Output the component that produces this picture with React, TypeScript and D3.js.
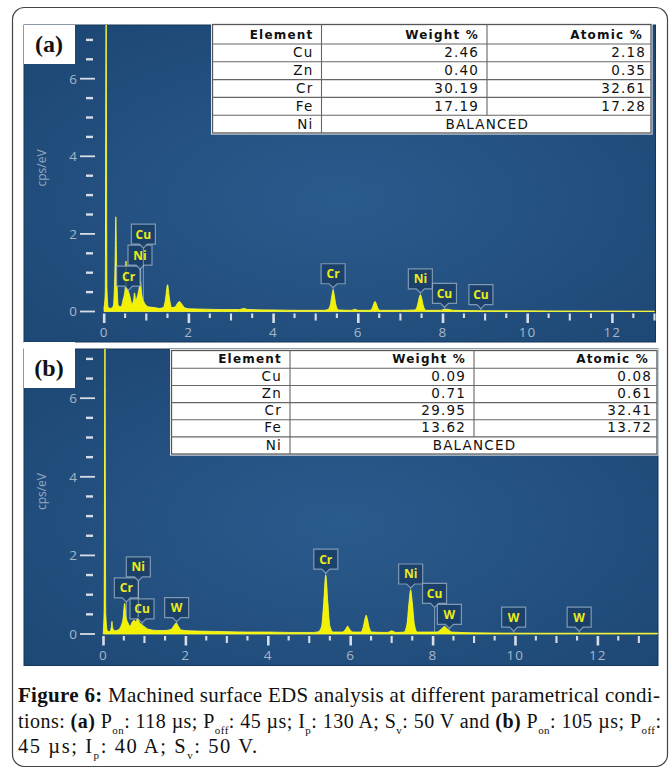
import React from "react";
import * as d3 from "d3";

type Pt = [number, number];
type Peak = { el: string; kev: number };
type Part = string | { b: string } | { s: string };

// EDS table values
const tableHeaders = ["Element", "Weight %", "Atomic %"];
const elements = ["Cu", "Zn", "Cr", "Fe", "Ni"];
const weightA = ["2.46", "0.40", "30.19", "17.19"];
const atomicA = ["2.18", "0.35", "32.61", "17.28"];
const weightB = ["0.09", "0.71", "29.95", "13.62"];
const atomicB = ["0.08", "0.61", "32.41", "13.72"];
const balanceText = "BALANCED";

// spectra: [keV, cps/eV]
const spectrumA: Pt[] = [
  [0, 0.1], [0.03, 0.5], [0.05, 8.0], [0.07, 0.6], [0.1, 0.1], [0.16, 0.08],
  [0.22, 0.15], [0.26, 1.2], [0.28, 2.44], [0.3, 1.0], [0.34, 0.15], [0.4, 0.12],
  [0.45, 0.3], [0.5, 0.6], [0.52, 1.3], [0.54, 0.6], [0.58, 0.5], [0.62, 0.35],
  [0.66, 0.2], [0.7, 0.3], [0.72, 0.48], [0.75, 0.3], [0.79, 0.4], [0.83, 0.6],
  [0.86, 0.78], [0.89, 0.45], [0.93, 0.28], [0.98, 0.18], [1.05, 0.12], [1.2, 0.1],
  [1.3, 0.08], [1.4, 0.1], [1.45, 0.3], [1.5, 0.69], [1.55, 0.3], [1.6, 0.1],
  [1.68, 0.12], [1.74, 0.22], [1.78, 0.26], [1.83, 0.2], [1.9, 0.1], [2.0, 0.07],
  [2.4, 0.06], [2.8, 0.05], [3.2, 0.05], [3.3, 0.08], [3.4, 0.05], [4.0, 0.04],
  [4.6, 0.03], [5.2, 0.03], [5.28, 0.05], [5.34, 0.15], [5.38, 0.4], [5.41, 0.56],
  [5.44, 0.4], [5.48, 0.15], [5.54, 0.04], [5.85, 0.03], [5.92, 0.06], [6.0, 0.03],
  [6.28, 0.03], [6.34, 0.1], [6.37, 0.2], [6.4, 0.26], [6.43, 0.2], [6.46, 0.1],
  [6.52, 0.03], [7.0, 0.03], [7.34, 0.04], [7.4, 0.15], [7.44, 0.35], [7.47, 0.43],
  [7.5, 0.35], [7.54, 0.15], [7.6, 0.03], [7.95, 0.03], [8.05, 0.06], [8.15, 0.05],
  [8.25, 0.03], [9.0, 0.02], [10.5, 0.015], [13.0, 0.01],
];

const spectrumB: Pt[] = [
  [0, 0.1], [0.02, 0.6], [0.04, 8.0], [0.06, 0.5], [0.1, 0.08], [0.15, 0.06],
  [0.19, 0.15], [0.21, 0.32], [0.23, 0.15], [0.28, 0.08], [0.35, 0.1], [0.42, 0.18],
  [0.48, 0.4], [0.52, 0.78], [0.55, 0.45], [0.6, 0.28], [0.65, 0.2], [0.7, 0.3],
  [0.75, 0.35], [0.8, 0.3], [0.84, 0.5], [0.87, 0.3], [0.92, 0.25], [0.98, 0.2],
  [1.1, 0.12], [1.3, 0.09], [1.5, 0.09], [1.65, 0.12], [1.72, 0.22], [1.77, 0.28],
  [1.82, 0.2], [1.9, 0.1], [2.1, 0.08], [2.5, 0.07], [3.0, 0.06], [3.5, 0.05],
  [4.0, 0.05], [4.5, 0.04], [5.1, 0.04], [5.22, 0.06], [5.3, 0.2], [5.35, 0.8],
  [5.4, 1.5], [5.45, 0.8], [5.5, 0.2], [5.58, 0.05], [5.8, 0.05], [5.88, 0.12],
  [5.93, 0.2], [5.98, 0.12], [6.06, 0.05], [6.25, 0.05], [6.31, 0.18], [6.35, 0.38],
  [6.38, 0.48], [6.41, 0.38], [6.45, 0.18], [6.52, 0.05], [6.9, 0.04], [7.0, 0.08],
  [7.1, 0.04], [7.3, 0.05], [7.37, 0.25], [7.42, 0.8], [7.46, 1.12], [7.5, 0.8],
  [7.55, 0.25], [7.62, 0.05], [8.1, 0.05], [8.2, 0.12], [8.28, 0.19], [8.36, 0.12],
  [8.46, 0.05], [9.0, 0.03], [10.5, 0.02], [13.45, 0.02],
];

// peak identifications (placed in this order, stacked when they collide)
const peaksA: Peak[] = [
  { el: "Cr", kev: 0.58 }, { el: "Ni", kev: 0.85 }, { el: "Cu", kev: 0.93 },
  { el: "Cr", kev: 5.41 }, { el: "Ni", kev: 7.47 }, { el: "Cu", kev: 8.04 },
  { el: "Cu", kev: 8.9 },
];
const peaksB: Peak[] = [
  { el: "Cu", kev: 0.94 }, { el: "Cr", kev: 0.56 }, { el: "Ni", kev: 0.85 },
  { el: "W", kev: 1.78 }, { el: "Cr", kev: 5.4 }, { el: "Ni", kev: 7.46 },
  { el: "W", kev: 8.4 }, { el: "Cu", kev: 8.04 }, { el: "W", kev: 9.96 },
  { el: "W", kev: 11.55 },
];

const yMajor = [0, 2, 4, 6];
const xLabels = [0, 2, 4, 6, 8, 10, 12];

const captionLines: Part[][] = [
  [{ b: "Figure 6:" }, " Machined surface EDS analysis at different parametrical condi-"],
  ["tions: ", { b: "(a)" }, " P", { s: "on" }, ": 118 µs; P", { s: "off" }, ": 45 µs; I", { s: "p" }, ": 130 A; S", { s: "v" }, ": 50 V and ", { b: "(b)" }, " P", { s: "on" }, ": 105 µs; P", { s: "off" }, ":"],
  ["45 µs; I", { s: "p" }, ": 40 A; S", { s: "v" }, ": 50 V."],
];

const layoutA = {
  left: 24, top: 25, right: 655.5, bottom: 342,
  x0: 104, kx: 42.35, xMax: 13.0, y0: 311.5, ky: 38.8, yMax: 7.4,
  table: { x0: 212.5, x1: 651, cols: [321.5, 487], top: 24.5, headH: 19.5, rowH: 17.8 },
  tag: { x: 24, y: 25, w: 51, h: 39 },
};
const layoutB = {
  left: 24, top: 349, right: 658, bottom: 665.5,
  x0: 103.3, kx: 41.2, xMax: 13.45, y0: 634, ky: 39.3, yMax: 7.25,
  table: { x0: 171.5, x1: 657, cols: [290, 474], top: 350.5, headH: 17.8, rowH: 17.15 },
  tag: { x: 24, y: 342, w: 51, h: 46 },
};

const TICK = "#d6dde6";
const TICK_TEXT = "#a7b6c6";
const YELLOW = "#f1f100";

function Table({ t, weights, atomics }: any) {
  const rows = elements.length;
  const bottom = t.top + t.headH + rows * t.rowH;
  const rowBottom = (i: number) => t.top + t.headH + (i + 1) * t.rowH;
  const txt = { fontFamily: "DejaVu Sans", fill: "#111", letterSpacing: 1.2 } as any;
  return (
    <g>
      <rect x={t.x0 - 1.5} y={t.top - 1.5} width={t.x1 - t.x0 + 3} height={bottom - t.top + 3} fill="#fff" />
      <rect x={t.x0} y={t.top} width={t.x1 - t.x0} height={bottom - t.top} fill="#fff" stroke="#555" strokeWidth={1.3} />
      {d3.range(rows).map((i) => (
        <line key={i} x1={t.x0} x2={t.x1} y1={t.top + t.headH + i * t.rowH} y2={t.top + t.headH + i * t.rowH} stroke="#666" strokeWidth={1.1} />
      ))}
      <line x1={t.cols[0]} x2={t.cols[0]} y1={t.top} y2={bottom} stroke="#666" strokeWidth={1.1} />
      <line x1={t.cols[1]} x2={t.cols[1]} y1={t.top} y2={rowBottom(rows - 2)} stroke="#666" strokeWidth={1.1} />
      {tableHeaders.map((h, j) => (
        <text key={h} {...txt} x={(j === 0 ? t.cols[0] : j === 1 ? t.cols[1] : t.x1) - 8} y={t.top + t.headH - 5} fontSize={12} fontWeight="bold" textAnchor="end">{h}</text>
      ))}
      {elements.map((e, i) => (
        <text key={e} {...txt} x={t.cols[0] - 8} y={rowBottom(i) - 4.5} fontSize={13.5} textAnchor="end">{e}</text>
      ))}
      {weights.map((w: string, i: number) => (
        <text key={"w" + i} {...txt} x={t.cols[1] - 8} y={rowBottom(i) - 4.5} fontSize={13.5} textAnchor="end">{w}</text>
      ))}
      {atomics.map((a: string, i: number) => (
        <text key={"a" + i} {...txt} x={t.x1 - 5} y={rowBottom(i) - 4.5} fontSize={13.5} textAnchor="end">{a}</text>
      ))}
      <text {...txt} x={(t.cols[0] + t.x1) / 2 + 1} y={bottom - 4.5} fontSize={13.5} textAnchor="middle">{balanceText}</text>
    </g>
  );
}

function Panel({ id, tag, spectrum, peaks, weights, atomics, L }: any) {
  const x = d3.scaleLinear().domain([0, L.xMax]).range([L.x0, L.x0 + L.xMax * L.kx]);
  const y = d3.scaleLinear().domain([0, L.yMax]).range([L.y0, L.y0 - L.yMax * L.ky]);
  const area = d3
    .area<Pt>()
    .x((d) => x(d[0]))
    .y0(y(0))
    .y1((d) => y(d[1]))
    .curve(d3.curveMonotoneX);

  const bis = d3.bisector((d: Pt) => d[0]).left;
  const valueAt = (k: number) => {
    const i = Math.max(1, Math.min(spectrum.length - 1, bis(spectrum, k)));
    const a = spectrum[i - 1], b = spectrum[i];
    return a[1] + ((k - a[0]) / (b[0] - a[0])) * (b[1] - a[1]);
  };

  // place label boxes above curve, pushing up on overlap
  const bw = 24, bh = 20, notch = 4;
  const placed: any[] = [];
  peaks.forEach((p: Peak) => {
    const cx = x(p.kev);
    const cy = y(valueAt(p.kev));
    let bottom = cy - notch - 2;
    let moved = true;
    while (moved) {
      moved = false;
      for (const o of placed) {
        const hOver = Math.min(cx + bw / 2, o.cx + bw / 2) - Math.max(cx - bw / 2, o.cx - bw / 2);
        const vOver = Math.min(bottom, o.bottom) - Math.max(bottom - bh, o.bottom - bh);
        if (hOver > 1.5 && vOver > 0) {
          bottom = o.bottom - bh - 1;
          moved = true;
        }
      }
    }
    placed.push({ ...p, cx, cy, bottom });
  });

  const xTicks = d3.range(0, L.xMax + 0.001, 0.5);
  const yMinor = d3.range(0.5, 7.01, 0.5).filter((v) => !yMajor.includes(v));

  return (
    <g>
      <defs>
        <radialGradient id={"bg" + id} cx="50%" cy="55%" r="75%">
          <stop offset="0%" stopColor="#2a5b8d" />
          <stop offset="100%" stopColor="#1c4572" />
        </radialGradient>
        <clipPath id={"clip" + id}>
          <rect x={L.left} y={L.top} width={L.right - L.left} height={L.bottom - L.top} />
        </clipPath>
      </defs>
      <rect x={L.left} y={L.top} width={L.right - L.left} height={L.bottom - L.top} fill={`url(#bg${id})`} stroke="#163659" strokeWidth={1} />
      <g clipPath={`url(#clip${id})`}>
        <path d={area(spectrum) || ""} fill={YELLOW} stroke="#ffff3a" strokeWidth={0.8} />
      </g>
      {/* y axis */}
      {yMajor.map((v) => (
        <g key={v}>
          <line x1={L.left + 56} x2={L.left + 71} y1={y(v)} y2={y(v)} stroke={TICK} strokeWidth={1.8} />
          <text x={L.left + 53} y={y(v)} dy="0.36em" textAnchor="end" fontFamily="Open Sans" fontSize={13.5} fill={TICK_TEXT}>{v}</text>
        </g>
      ))}
      {yMinor.map((v) => (
        <line key={v} x1={L.left + 62} x2={L.left + 69} y1={y(v)} y2={y(v)} stroke={TICK} strokeWidth={2.4} />
      ))}
      <text transform={`translate(${L.left + 22},${y(L.yMax / 2)}) rotate(-90)`} textAnchor="middle" fontFamily="Open Sans" fontSize={12} fill="#94a8bc">cps/eV</text>
      {/* x axis */}
      {xTicks.map((v) => {
        const even = Math.abs(v % 2) < 1e-6;
        const whole = Math.abs(v % 1) < 1e-6;
        const h = even ? 9.5 : whole ? 7 : 4.5;
        return <rect key={v} x={x(v) - 1.1} y={L.y0 + 2} width={even ? 2.6 : 2.1} height={h} fill={TICK} />;
      })}
      {xLabels.filter((v) => v <= L.xMax).map((v) => (
        <text key={v} x={x(v)} y={L.y0 + 25.5} textAnchor="middle" fontFamily="Open Sans" fontSize={13.5} letterSpacing={1} fill={TICK_TEXT}>{v}</text>
      ))}
      {/* peak labels */}
      {placed.map((p, i) => {
        const x0 = p.cx - bw / 2, x1 = p.cx + bw / 2, top = p.bottom - bh;
        const d = `M${x0},${top}H${x1}V${p.bottom}H${p.cx + notch}L${p.cx},${p.bottom + notch}L${p.cx - notch},${p.bottom}H${x0}Z`;
        return (
          <g key={i}>
            {p.cy > p.bottom + notch + 1 && (
              <line x1={p.cx} x2={p.cx} y1={p.bottom + notch} y2={p.cy} stroke="#b9c8d8" strokeOpacity={0.6} strokeWidth={1} />
            )}
            <path d={d} fill="#1a3e66" fillOpacity={0.85} stroke="#9fb3c8" strokeOpacity={0.75} strokeWidth={1.2} />
            <text x={p.cx} y={top + 14.5} textAnchor="middle" fontFamily="Open Sans" fontWeight="bold" fontSize={12} fill="#ecec1a">{p.el}</text>
          </g>
        );
      })}
      <Table t={L.table} weights={weights} atomics={atomics} />
      <rect x={L.tag.x} y={L.tag.y} width={L.tag.w} height={L.tag.h} fill="#fff" />
      <text x={L.tag.x + 25} y={L.tag.y + L.tag.h - 12} textAnchor="middle" fontFamily="Liberation Serif" fontWeight="bold" fontSize={24} fill="#111">{tag}</text>
    </g>
  );
}

function CaptionLine({ parts, ...rest }: { parts: Part[]; [k: string]: any }) {
  let lowered = false;
  return (
    <text {...rest}>
      {parts.map((p, i) => {
        if (typeof p === "object" && "s" in p) {
          lowered = true;
          return <tspan key={i} dy={6} fontSize={11}>{p.s}</tspan>;
        }
        const dy = lowered ? -6 : undefined;
        lowered = false;
        if (typeof p === "string") return <tspan key={i} dy={dy}>{p}</tspan>;
        return <tspan key={i} dy={dy} fontWeight="bold">{p.b}</tspan>;
      })}
    </text>
  );
}

export default function App() {
  return (
    <svg width={670} height={767} style={{ position: "absolute", left: 0, top: 0, background: "#fff" }}>
      <rect x={12.5} y={7.5} width={655} height={759} rx={12} fill="#fff" stroke="#444" strokeWidth={1.2} />
      <Panel id="a" tag="(a)" spectrum={spectrumA} peaks={peaksA} weights={weightA} atomics={atomicA} L={layoutA} />
      <Panel id="b" tag="(b)" spectrum={spectrumB} peaks={peaksB} weights={weightB} atomics={atomicB} L={layoutB} />
      <g fontFamily="Liberation Serif" fill="#111" style={{ whiteSpace: "pre" }}>
        <CaptionLine parts={captionLines[0]} x={18} y={702} fontSize={21} textLength={642} lengthAdjust="spacing" />
        <CaptionLine parts={captionLines[1]} x={18} y={728} fontSize={20} textLength={643} lengthAdjust="spacing" />
        <CaptionLine parts={captionLines[2]} x={18} y={753} fontSize={20.5} textLength={239} lengthAdjust="spacing" />
      </g>
    </svg>
  );
}
